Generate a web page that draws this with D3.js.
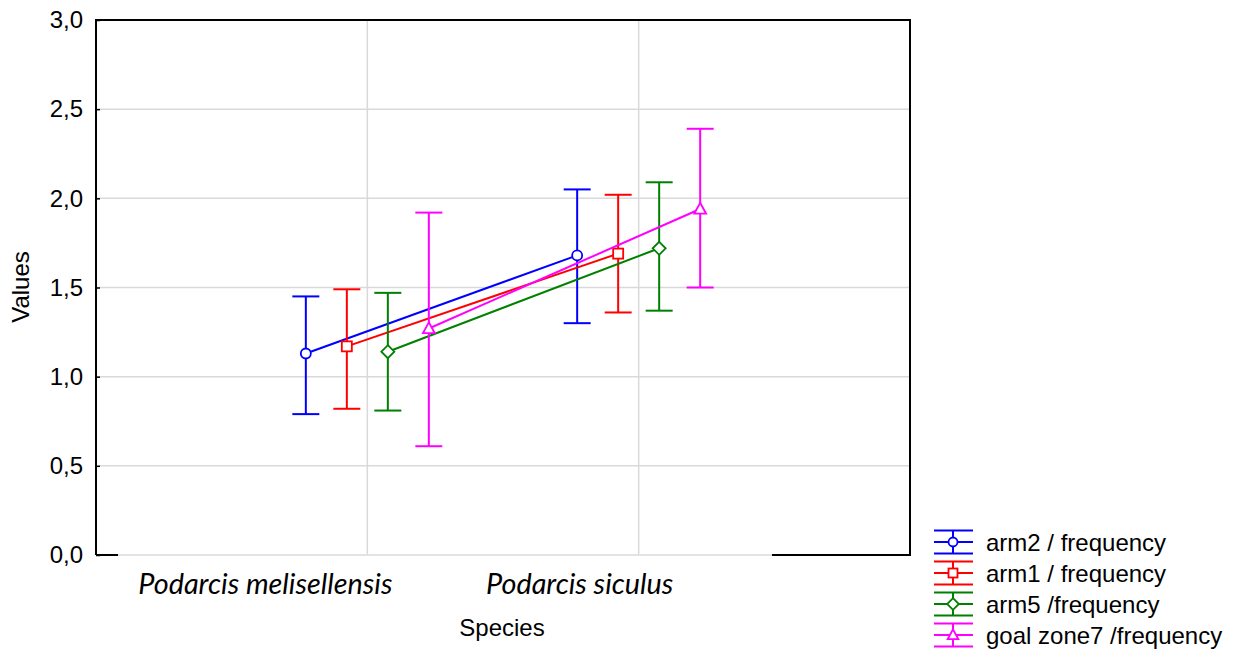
<!DOCTYPE html>
<html>
<head>
<meta charset="utf-8">
<script src="https://cdn.jsdelivr.net/npm/d3@7"></script>
<style>
  html, body { margin: 0; padding: 0; background: #fff; }
  svg { display: block; }
</style>
</head>
<body>
<div id="chart"></div>
<script>
// data
const species = ['Podarcis melisellensis', 'Podarcis siculus'];
const seriesNames = ['arm2 / frequency', 'arm1 / frequency', 'arm5 /frequency', 'goal zone7 /frequency'];
const seriesColors = ['#0000ff', '#ff0000', '#008000', '#ff00ff'];
const seriesMarkers = ['circle', 'square', 'diamond', 'triangle'];
const means = [
    [1.13, 1.68],
    [1.17, 1.69],
    [1.14, 1.72],
    [1.27, 1.94]
];
const upper = [
    [1.45, 2.05],
    [1.49, 2.02],
    [1.47, 2.09],
    [1.92, 2.39]
];
const lower = [
    [0.79, 1.30],
    [0.82, 1.36],
    [0.81, 1.37],
    [0.61, 1.50]
];
const yTicks = [0, 0.5, 1, 1.5, 2, 2.5, 3];

const W = 1243, H = 652;
const plot = { left: 96, right: 910, top: 20, bottom: 555 };
const dodge = [-61.5, -20.5, 20.5, 61.5];
const capW = 27;
const sans = 'Liberation Sans, Arial, sans-serif';

const svg = d3.select('#chart').append('svg')
    .attr('width', W).attr('height', H);

const x = d3.scaleLinear().domain([0, 3]).range([plot.left, plot.right]);
const y = d3.scaleLinear().domain([0, 3]).range([plot.bottom, plot.top]);

// 网格
svg.append('g')
    .selectAll('line').data(yTicks.slice(1, -1)).join('line')
    .attr('x1', plot.left).attr('x2', plot.right)
    .attr('y1', d => y(d)).attr('y2', d => y(d))
    .attr('stroke', '#d9d9d9').attr('stroke-width', 1.5);
svg.append('g')
    .selectAll('line').data([1, 2]).join('line')
    .attr('x1', d => x(d)).attr('x2', d => x(d))
    .attr('y1', plot.top).attr('y2', plot.bottom)
    .attr('stroke', '#d9d9d9').attr('stroke-width', 1.5);

// frame
svg.append('path')
    .attr('d', `M${plot.left},${plot.bottom}V${plot.top}H${plot.right}V${plot.bottom}H${plot.left}`)
    .attr('fill', 'none').attr('stroke', '#000').attr('stroke-width', 2);
// the bottom edge is grey in the middle in the original
svg.append('line')
    .attr('x1', 118).attr('x2', 772).attr('y1', plot.bottom).attr('y2', plot.bottom)
    .attr('stroke', '#e3e3e3').attr('stroke-width', 2.2);

// y axis ticks + labels
const yAxis = d3.axisLeft(y).tickValues(yTicks).tickSize(-4).tickPadding(13)
    .tickFormat(d => d3.format('.1f')(d).replace('.', ','));
svg.append('g')
    .attr('transform', `translate(${plot.left},0)`)
    .call(yAxis)
    .call(g => g.select('.domain').remove())
    .call(g => g.selectAll('.tick line').attr('stroke', '#000').attr('stroke-width', 1.5))
    .call(g => g.selectAll('.tick text')
        .attr('fill', '#000')
        .style('font-family', sans)
        .style('font-size', '24px'));

// category labels (placed left of the grid positions, as in the source)
const labelShift = [-102, -59];
svg.append('g')
    .selectAll('text').data(species).join('text')
    .attr('x', (d, i) => x(i + 1) + labelShift[i])
    .attr('y', 594)
    .attr('text-anchor', 'middle')
    .style('font-family', 'Lato, "Open Sans", sans-serif')
    .style('font-style', 'italic')
    .style('font-size', '28.8px')
    .attr('fill', '#000')
    .text(d => d);

// axis titles
svg.append('text')
    .attr('x', 502).attr('y', 636)
    .attr('text-anchor', 'middle')
    .style('font-family', sans)
    .style('font-size', '24px')
    .text('Species');
svg.append('text')
    .attr('transform', 'translate(29,287) rotate(-90)')
    .attr('text-anchor', 'middle')
    .style('font-family', sans)
    .style('font-size', '24px')
    .text('Values');

function marker(g, type, cx, cy, color, s) {
    if (type === 'circle') {
        g.append('circle').attr('cx', cx).attr('cy', cy).attr('r', s)
            .attr('fill', '#fff').attr('stroke', color).attr('stroke-width', 1.8);
    } else if (type === 'square') {
        g.append('rect').attr('x', cx - s).attr('y', cy - s).attr('width', 2 * s).attr('height', 2 * s)
            .attr('fill', '#fff').attr('stroke', color).attr('stroke-width', 1.8);
    } else if (type === 'diamond') {
        const r = s * 1.3;
        g.append('path').attr('d', `M${cx},${cy - r}L${cx + r},${cy}L${cx},${cy + r}L${cx - r},${cy}Z`)
            .attr('fill', '#fff').attr('stroke', color).attr('stroke-width', 1.8);
    } else {
        const r = s * 1.25;
        g.append('path').attr('d', `M${cx},${cy - r}L${cx + r * 0.95},${cy + r * 0.75}L${cx - r * 0.95},${cy + r * 0.75}Z`)
            .attr('fill', '#fff').attr('stroke', color).attr('stroke-width', 1.8);
    }
}

// series
seriesNames.forEach((name, si) => {
    const color = seriesColors[si];
    const g = svg.append('g');
    const px = species.map((s, ci) => x(ci + 1) + dodge[si]);

    // error bars
    species.forEach((s, ci) => {
        g.append('line')
            .attr('x1', px[ci]).attr('x2', px[ci])
            .attr('y1', y(upper[si][ci])).attr('y2', y(lower[si][ci]))
            .attr('stroke', color).attr('stroke-width', 2);
        [upper[si][ci], lower[si][ci]].forEach(v => {
            g.append('line')
                .attr('x1', px[ci] - capW / 2).attr('x2', px[ci] + capW / 2)
                .attr('y1', y(v)).attr('y2', y(v))
                .attr('stroke', color).attr('stroke-width', 2);
        });
    });

    // mean line
    g.append('path')
        .datum(means[si])
        .attr('fill', 'none').attr('stroke', color).attr('stroke-width', 2)
        .attr('d', d3.line().x((d, ci) => px[ci]).y(d => y(d)));

    species.forEach((s, ci) => marker(g, seriesMarkers[si], px[ci], y(means[si][ci]), color, 5));
});

// legend
const legend = svg.append('g');
seriesNames.forEach((name, si) => {
    const cy = 542 + si * 31;
    const color = seriesColors[si];
    const g = legend.append('g');
    [-11.5, 0, 11.5].forEach(dy => {
        g.append('line').attr('x1', 934).attr('x2', 973)
            .attr('y1', cy + dy).attr('y2', cy + dy)
            .attr('stroke', color).attr('stroke-width', 2);
    });
    g.append('line').attr('x1', 953).attr('x2', 953)
        .attr('y1', cy - 11.5).attr('y2', cy + 11.5)
        .attr('stroke', color).attr('stroke-width', 2);
    marker(g, seriesMarkers[si], 953, cy, color, 4.5);
    g.append('text')
        .attr('x', 986).attr('y', cy + 8.5)
        .style('font-family', sans)
        .style('font-size', '24px')
        .attr('fill', '#000')
        .text(name);
});
</script>
</body>
</html>
